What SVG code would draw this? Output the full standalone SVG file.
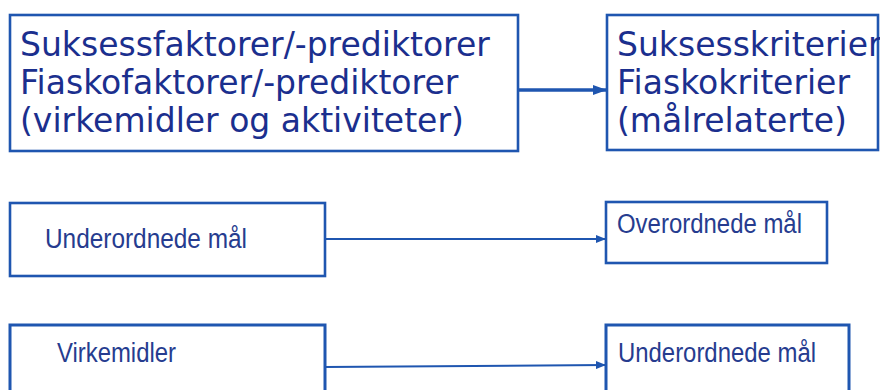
<svg xmlns="http://www.w3.org/2000/svg" width="880" height="390" viewBox="0 0 880 390">
  <defs>
    <style>
      .box { fill: #ffffff; stroke: #1f56b0; stroke-width: 2.6; }
      .big { font-family: "DejaVu Sans", Verdana, sans-serif; font-size: 33px; fill: #1b2f8e; }
      .small { font-family: "Liberation Sans", Arial, sans-serif; font-size: 27px; fill: #263c8f; }
      .conn { stroke: #1f56b0; fill: none; }
    </style>
    <marker id="ah" viewBox="0 0 10 8" refX="10" refY="4" markerWidth="10" markerHeight="8" markerUnits="userSpaceOnUse" orient="auto">
      <path d="M0,0 L10,4 L0,8 Z" fill="#1f56b0"/>
    </marker>
    <marker id="ahBig" viewBox="0 0 14 10" refX="14" refY="5" markerWidth="14" markerHeight="10" markerUnits="userSpaceOnUse" orient="auto">
      <path d="M0,0 L14,5 L0,10 Z" fill="#1f56b0"/>
    </marker>
  </defs>
  <rect width="880" height="390" fill="#ffffff"/>

  <g id="connectors">
    <line class="conn" x1="518" y1="90" x2="607" y2="90" stroke-width="3.5" marker-end="url(#ahBig)"/>
    <line class="conn" x1="325" y1="239" x2="606" y2="239" stroke-width="2" marker-end="url(#ah)"/>
    <line class="conn" x1="325" y1="367" x2="606" y2="365" stroke-width="2" marker-end="url(#ah)"/>
  </g>

  <g id="node-faktorer">
    <rect class="box" x="10" y="15" width="508" height="136"/>
    <text class="big" x="20" y="56">Suksessfaktorer/-prediktorer</text>
    <text class="big" x="20" y="94">Fiaskofaktorer/-prediktorer</text>
    <text class="big" x="20" y="132">(virkemidler og aktiviteter)</text>
  </g>

  <g id="node-kriterier">
    <rect class="box" x="607" y="15" width="271" height="135"/>
    <text class="big" x="617" y="56">Suksesskriterier</text>
    <text class="big" x="617" y="94">Fiaskokriterier</text>
    <text class="big" x="617" y="132">(målrelaterte)</text>
  </g>

  <g id="node-underordnede-1">
    <rect class="box" x="10" y="203" width="315" height="73"/>
    <text class="small" x="45" y="248" textLength="202" lengthAdjust="spacingAndGlyphs">Underordnede mål</text>
  </g>

  <g id="node-overordnede">
    <rect class="box" x="606" y="202" width="221" height="61" stroke-width="3"/>
    <text class="small" x="617" y="233" textLength="185" lengthAdjust="spacingAndGlyphs">Overordnede mål</text>
  </g>

  <g id="node-virkemidler">
    <rect class="box" x="10" y="325" width="315" height="75" style="stroke-width:3"/>
    <text class="small" x="57" y="362" textLength="119" lengthAdjust="spacingAndGlyphs">Virkemidler</text>
  </g>

  <g id="node-underordnede-2">
    <rect class="box" x="606" y="325" width="243" height="75" style="stroke-width:3"/>
    <text class="small" x="618" y="362" textLength="198" lengthAdjust="spacingAndGlyphs">Underordnede mål</text>
  </g>
</svg>
